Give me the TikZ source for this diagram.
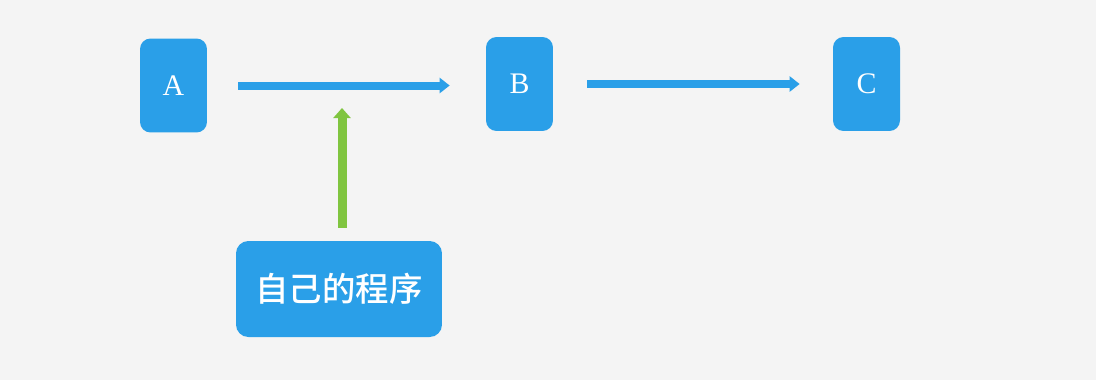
\documentclass[tikz,border=0pt]{standalone}
\usepackage{fontspec}
\setmainfont{Liberation Serif}
\newfontfamily\cjk{Noto Sans CJK SC Medium}
\usetikzlibrary{arrows.meta, positioning, calc}
\definecolor{nodeblue}{RGB}{42, 159, 232}
\definecolor{feedgreen}{RGB}{128, 197, 64}
\definecolor{paper}{RGB}{244, 244, 244}

\begin{document}
\begin{tikzpicture}[
  x=0.02cm, y=-0.02cm,
  letter/.style={fill=nodeblue, rounded corners=6pt, minimum width=1.34cm, minimum height=1.88cm, inner sep=0pt, text=white, font=\fontsize{17}{20}\selectfont},
  progbox/.style={fill=nodeblue, rounded corners=7pt, minimum width=4.12cm, minimum height=1.92cm, inner sep=0pt, text=white, font=\cjk\fontsize{19}{22}\selectfont},
  flow/.style={-{Triangle[length=0.2cm, width=0.3cm]}, line width=0.16cm, nodeblue},
  feed/.style={-{Triangle[length=0.2cm, width=0.34cm]}, line width=0.18cm, feedgreen}
]
  \fill[paper] (0,0) rectangle (1096,380);
  \useasboundingbox (0,0) rectangle (1096,380);

  \node[letter] (A) at (173.5, 85.5) {A};
  \node[letter] (B) at (519.5, 84) {B};
  \node[letter] (C) at (866.5, 84) {C};

  \node[progbox] (prog) at (339, 289) {自己的程序};

  \draw[flow, shorten <=0.62cm, shorten >=0.72cm] (A.east) -- (A.east -| B.west);
  \draw[flow, shorten <=0.68cm, shorten >=0.66cm] (B) -- (C);

  \coordinate (hook) at (342, 108);
  \draw[feed, shorten <=0.26cm] (prog.north -| hook) -- (hook);
\end{tikzpicture}
\end{document}
